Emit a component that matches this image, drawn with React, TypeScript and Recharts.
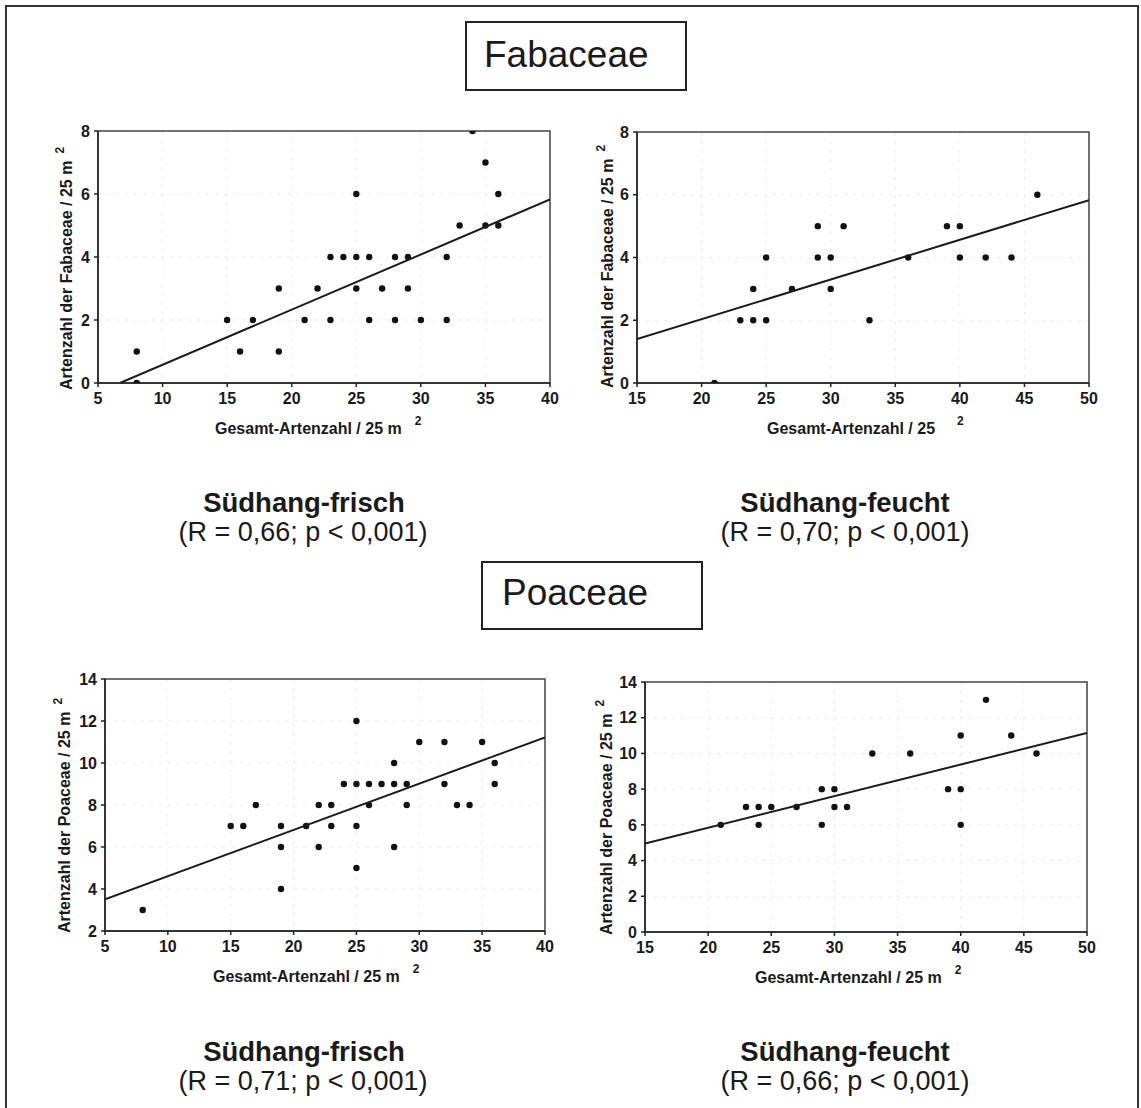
import React from 'react';
import { ScatterChart, Scatter, XAxis, YAxis, CartesianGrid, ReferenceArea } from 'recharts';

type Pt = { x: number; y: number };

const FONT = "'Liberation Sans', Arial, Helvetica, sans-serif";

// Fabaceae – Südhang-frisch
const fabFrisch: Pt[] = [
  { x: 8, y: 1 }, { x: 8, y: 0 }, { x: 15, y: 2 }, { x: 16, y: 1 }, { x: 17, y: 2 },
  { x: 19, y: 3 }, { x: 19, y: 1 }, { x: 21, y: 2 }, { x: 22, y: 3 }, { x: 23, y: 4 },
  { x: 23, y: 2 }, { x: 24, y: 4 }, { x: 25, y: 6 }, { x: 25, y: 4 }, { x: 25, y: 3 },
  { x: 26, y: 4 }, { x: 26, y: 2 }, { x: 27, y: 3 }, { x: 28, y: 4 }, { x: 28, y: 2 },
  { x: 29, y: 4 }, { x: 29, y: 3 }, { x: 30, y: 2 }, { x: 32, y: 4 }, { x: 32, y: 2 },
  { x: 33, y: 5 }, { x: 34, y: 8 }, { x: 35, y: 7 }, { x: 35, y: 5 }, { x: 36, y: 6 },
  { x: 36, y: 5 },
];
const fabFrischFit: Pt[] = [{ x: 6.7, y: 0 }, { x: 40, y: 5.83 }];

// Fabaceae – Südhang-feucht
const fabFeucht: Pt[] = [
  { x: 21, y: 0 }, { x: 23, y: 2 }, { x: 24, y: 2 }, { x: 24, y: 3 }, { x: 25, y: 2 },
  { x: 25, y: 4 }, { x: 27, y: 3 }, { x: 29, y: 5 }, { x: 29, y: 4 }, { x: 30, y: 4 },
  { x: 30, y: 3 }, { x: 31, y: 5 }, { x: 33, y: 2 }, { x: 36, y: 4 }, { x: 39, y: 5 },
  { x: 40, y: 5 }, { x: 40, y: 4 }, { x: 42, y: 4 }, { x: 44, y: 4 }, { x: 46, y: 6 },
];
const fabFeuchtFit: Pt[] = [{ x: 15, y: 1.4 }, { x: 50, y: 5.83 }];

// Poaceae – Südhang-frisch
const poaFrisch: Pt[] = [
  { x: 8, y: 3 }, { x: 15, y: 7 }, { x: 16, y: 7 }, { x: 17, y: 8 }, { x: 19, y: 7 },
  { x: 19, y: 6 }, { x: 19, y: 4 }, { x: 21, y: 7 }, { x: 22, y: 8 }, { x: 22, y: 6 },
  { x: 23, y: 8 }, { x: 23, y: 7 }, { x: 24, y: 9 }, { x: 25, y: 12 }, { x: 25, y: 9 },
  { x: 25, y: 7 }, { x: 25, y: 5 }, { x: 26, y: 9 }, { x: 26, y: 8 }, { x: 27, y: 9 },
  { x: 28, y: 10 }, { x: 28, y: 9 }, { x: 28, y: 6 }, { x: 29, y: 9 }, { x: 29, y: 8 },
  { x: 30, y: 11 }, { x: 32, y: 11 }, { x: 32, y: 9 }, { x: 33, y: 8 }, { x: 34, y: 8 },
  { x: 35, y: 11 }, { x: 36, y: 10 }, { x: 36, y: 9 },
];
const poaFrischFit: Pt[] = [{ x: 5, y: 3.51 }, { x: 40, y: 11.22 }];

// Poaceae – Südhang-feucht
const poaFeucht: Pt[] = [
  { x: 21, y: 6 }, { x: 23, y: 7 }, { x: 24, y: 7 }, { x: 24, y: 6 }, { x: 25, y: 7 },
  { x: 27, y: 7 }, { x: 29, y: 8 }, { x: 29, y: 6 }, { x: 30, y: 8 }, { x: 30, y: 7 },
  { x: 31, y: 7 }, { x: 33, y: 10 }, { x: 36, y: 10 }, { x: 39, y: 8 }, { x: 40, y: 11 },
  { x: 40, y: 8 }, { x: 40, y: 6 }, { x: 42, y: 13 }, { x: 44, y: 11 }, { x: 46, y: 10 },
];
const poaFeuchtFit: Pt[] = [{ x: 15, y: 4.95 }, { x: 50, y: 11.15 }];

const xTicksFrisch = [5, 10, 15, 20, 25, 30, 35, 40];
const xTicksFeucht = [15, 20, 25, 30, 35, 40, 45, 50];
const yTicksFab = [0, 2, 4, 6, 8];
const yTicksPoaFrisch = [2, 4, 6, 8, 10, 12, 14];
const yTicksPoaFeucht = [0, 2, 4, 6, 8, 10, 12, 14];

const tickStyle = { fill: '#1a1a1a', fontSize: 16, fontWeight: 700, fontFamily: FONT };

const Dot = (p: any) =>
  p.cx == null ? <g /> : <circle cx={p.cx} cy={p.cy} r={3.2} fill="#111" />;
const NoDot = () => <g />;

const XTitle = ({ tx, ty, text, supDx }: any) => (
  <text x={tx} y={ty} fontFamily={FONT} fontWeight={700} fontSize={16} fill="#1a1a1a">
    {text}
    <tspan dx={supDx} dy={-9} fontSize={12}>2</tspan>
  </text>
);

const YTitle = ({ tx, ty, text }: any) => (
  <text
    x={tx}
    y={ty}
    transform={`rotate(-90 ${tx} ${ty})`}
    fontFamily={FONT}
    fontWeight={700}
    fontSize={16}
    fill="#1a1a1a"
  >
    {text}
    <tspan dx={7} dy={-8} fontSize={12}>2</tspan>
  </text>
);

interface PanelProps {
  left: number;
  top: number;
  w: number;
  h: number;
  xDomain: [number, number];
  xTicks: number[];
  yDomain: [number, number];
  yTicks: number[];
  points: Pt[];
  fit: Pt[];
  yText: string;
  yOff: number;
  yStart: number;
  xText: string;
  xStart: number;
  supDx: number;
}

const Panel: React.FC<PanelProps> = (p) => {
  const ox = p.left - 60;
  const oy = p.top - 10;
  return (
    <div style={{ position: 'absolute', left: ox, top: oy }}>
      <ScatterChart width={p.w + 72} height={p.h + 72} margin={{ top: 10, right: 12, bottom: 0, left: 0 }}>
        <CartesianGrid stroke="#ececec" strokeDasharray="3 6" />
        <XAxis
          type="number"
          dataKey="x"
          domain={p.xDomain}
          ticks={p.xTicks}
          allowDataOverflow
          height={62}
          stroke="#222"
          strokeWidth={1.5}
          tickSize={4}
          tickMargin={6}
          tick={tickStyle}
          label={<XTitle tx={p.xStart - ox} ty={10 + p.h + 51} text={p.xText} supDx={p.supDx} />}
        />
        <YAxis
          type="number"
          dataKey="y"
          domain={p.yDomain}
          ticks={p.yTicks}
          allowDataOverflow
          width={60}
          stroke="#222"
          strokeWidth={1.5}
          tickSize={4}
          tickMargin={4}
          tick={tickStyle}
          label={<YTitle tx={60 - p.yOff} ty={10 + p.h + p.yStart} text={p.yText} />}
        />
        <ReferenceArea
          x1={p.xDomain[0]}
          x2={p.xDomain[1]}
          y1={p.yDomain[0]}
          y2={p.yDomain[1]}
          fill="none"
          stroke="#444"
          strokeWidth={1.5}
        />
        <Scatter data={p.points} shape={Dot} isAnimationActive={false} />
        <Scatter
          data={p.fit}
          shape={NoDot}
          line={{ stroke: '#1a1a1a', strokeWidth: 2 }}
          isAnimationActive={false}
        />
      </ScatterChart>
    </div>
  );
};

export default function App() {
  return (
    <div
      style={{
        position: 'absolute',
        left: 0,
        top: 0,
        width: 1141,
        height: 1108,
        overflow: 'hidden',
        background: '#fff',
      }}
    >
      <svg width={1141} height={1108} style={{ position: 'absolute', left: 0, top: 0 }}>
        <rect x={6} y={6} width={1132} height={1130} fill="none" stroke="#333" strokeWidth={2} />
        <rect x={466} y={22} width={220} height={68} fill="#fff" stroke="#222" strokeWidth={2} />
        <text x={484} y={67} fontFamily={FONT} fontSize={37} fill="#1a1a1a">Fabaceae</text>
        <rect x={482} y={562} width={220} height={67} fill="#fff" stroke="#222" strokeWidth={2} />
        <text x={502} y={605} fontFamily={FONT} fontSize={37} fill="#1a1a1a">Poaceae</text>

        <g fontFamily={FONT} fill="#1a1a1a" textAnchor="middle">
          <text x={304} y={512} fontSize={27.5} fontWeight={700}>Südhang-frisch</text>
          <text x={303} y={541} fontSize={27}>(R = 0,66; p &lt; 0,001)</text>
          <text x={845} y={512} fontSize={27.5} fontWeight={700}>Südhang-feucht</text>
          <text x={845} y={541} fontSize={27}>(R = 0,70; p &lt; 0,001)</text>
          <text x={304} y={1061} fontSize={27.5} fontWeight={700}>Südhang-frisch</text>
          <text x={303} y={1090} fontSize={27}>(R = 0,71; p &lt; 0,001)</text>
          <text x={845} y={1061} fontSize={27.5} fontWeight={700}>Südhang-feucht</text>
          <text x={845} y={1090} fontSize={27}>(R = 0,66; p &lt; 0,001)</text>
        </g>
      </svg>

      <Panel
        left={98} top={131} w={452} h={252}
        xDomain={[5, 40]} xTicks={xTicksFrisch}
        yDomain={[0, 8]} yTicks={yTicksFab}
        points={fabFrisch} fit={fabFrischFit}
        yText="Artenzahl der Fabaceae / 25 m" yOff={26} yStart={7}
        xText="Gesamt-Artenzahl / 25 m" xStart={215} supDx={13}
      />
      <Panel
        left={637} top={132} w={452} h={251}
        xDomain={[15, 50]} xTicks={xTicksFeucht}
        yDomain={[0, 8]} yTicks={yTicksFab}
        points={fabFeucht} fit={fabFeuchtFit}
        yText="Artenzahl der Fabaceae / 25 m" yOff={24} yStart={5}
        xText="Gesamt-Artenzahl / 25" xStart={767} supDx={22}
      />
      <Panel
        left={105} top={679} w={440} h={252}
        xDomain={[5, 40]} xTicks={xTicksFrisch}
        yDomain={[2, 14]} yTicks={yTicksPoaFrisch}
        points={poaFrisch} fit={poaFrischFit}
        yText="Artenzahl der Poaceae / 25 m" yOff={35} yStart={2}
        xText="Gesamt-Artenzahl / 25 m" xStart={213} supDx={13}
      />
      <Panel
        left={645} top={682} w={442} h={250}
        xDomain={[15, 50]} xTicks={xTicksFeucht}
        yDomain={[0, 14]} yTicks={yTicksPoaFeucht}
        points={poaFeucht} fit={poaFeuchtFit}
        yText="Artenzahl der Poaceae / 25 m" yOff={33} yStart={3}
        xText="Gesamt-Artenzahl / 25 m" xStart={755} supDx={13}
      />
    </div>
  );
}
